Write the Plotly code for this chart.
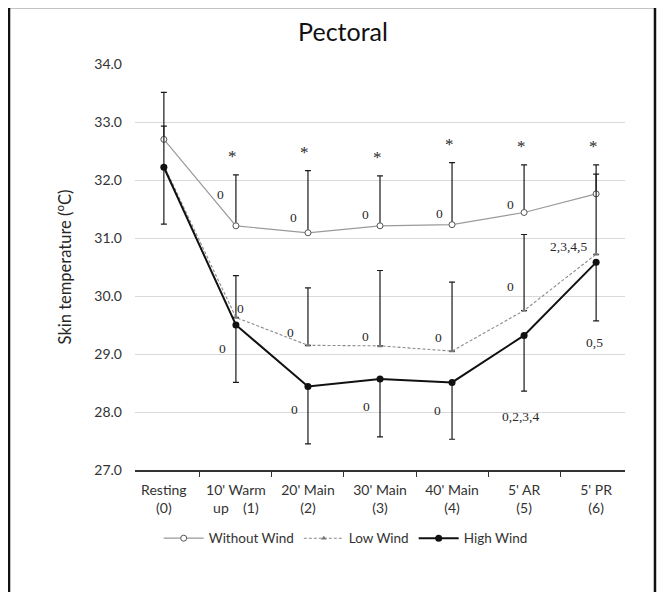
import plotly.graph_objects as go

# ---------------- data ----------------
categories = ["Resting<br>(0)", "10' Warm<br>up\u00a0\u00a0\u00a0\u00a0(1)", "20' Main<br>(2)",
              "30' Main<br>(3)", "40' Main<br>(4)", "5' AR<br>(5)", "5' PR<br>(6)"]

without_wind = [32.70, 31.21, 31.09, 31.21, 31.23, 31.44, 31.76]
without_wind_sd = [0.81, 0.88, 1.07, 0.86, 1.07, 0.82, 0.50]   # upper bars

low_wind = [32.25, 29.63, 29.15, 29.14, 29.05, 29.75, 30.72]
low_wind_sd = [0.68, 0.72, 0.99, 1.30, 1.19, 1.31, 1.38]       # upper bars

high_wind = [32.22, 29.50, 28.44, 28.57, 28.51, 29.32, 30.58]
high_wind_sd = [0.98, 0.99, 0.99, 1.00, 0.98, 0.96, 1.01]      # lower bars

without_wind_sig = ["", "0", "0", "0", "0", "0", ""]
low_wind_sig = ["", "0", "0", "0", "0", "0", "2,3,4,5"]
high_wind_sig = ["", "0", "0", "0", "0", "0,2,3,4", "0,5"]
between_sig = ["", "*", "*", "*", "*", "*", "*"]

y_ticks = [27.0, 28.0, 29.0, 30.0, 31.0, 32.0, 33.0, 34.0]

# ---------------- style ----------------
FONT = "Lato"
SERIF = "Liberation Serif"
zeros = [0] * len(categories)

# label pixel offsets (dx, dy) relative to each point, dy positive = up
ww_off = [(0, 0), (-15, 31), (-14, 15), (-15, 11), (-13, 11), (-14, 8), (0, 0)]
lw_off = [(0, 0), (5, 9), (-17, 13), (-15, 9), (-14, 14), (-14, 24), (-28, 8)]
hw_off = [(0, 0), (-13, -23), (-13, -23), (-14, -28), (-15, -28), (-4, -81), (-2, -80)]

fig = go.Figure()

err_style = dict(type="data", symmetric=False, color="#1a1a1a", thickness=1.2, width=3)

fig.add_trace(go.Scatter(
    x=categories, y=without_wind, name="Without Wind", mode="lines+markers",
    line=dict(color="#9a9a9a", width=1.2),
    marker=dict(symbol="circle", size=6, color="white", line=dict(color="#555555", width=1)),
    error_y=dict(array=without_wind_sd, arrayminus=zeros, **err_style),
))
fig.add_trace(go.Scatter(
    x=categories, y=low_wind, name="Low Wind", mode="lines+markers",
    line=dict(color="#8a8a8a", width=1.1, dash="3px,2px"),
    marker=dict(symbol="triangle-up", size=5, color="#777777"),
    error_y=dict(array=low_wind_sd, arrayminus=zeros, **err_style),
))
fig.add_trace(go.Scatter(
    x=categories, y=high_wind, name="High Wind", mode="lines+markers",
    line=dict(color="#111111", width=2),
    marker=dict(symbol="circle", size=7, color="#111111"),
    error_y=dict(array=zeros, arrayminus=high_wind_sd, **err_style),
))

annotations = []


def add_labels(vals, labels, offs):
    for c, v, t, (dx, dy) in zip(categories, vals, labels, offs):
        if t:
            annotations.append(dict(x=c, y=v, text=t, showarrow=False, xshift=dx, yshift=dy,
                                    font=dict(family=SERIF, size=13.5, color="#2a2a2a")))


add_labels(without_wind, without_wind_sig, ww_off)
add_labels(low_wind, low_wind_sig, lw_off)
add_labels(high_wind, high_wind_sig, hw_off)

for c, v, s, t in zip(categories, without_wind, without_wind_sd, between_sig):
    if t:
        annotations.append(dict(x=c, y=v + s, text=t, showarrow=False, xshift=-3, yshift=18,
                                font=dict(family=SERIF, size=17, color="#2a2a2a")))

fig.update_layout(
    width=665, height=592,
    margin=dict(l=127, r=48, t=56, b=129.5),
    paper_bgcolor="white", plot_bgcolor="white",
    font=dict(family=FONT, size=13, color="#404040"),
    title=dict(text="Pectoral", x=0.4245, xref="paper", xanchor="center",
               y=1 - 24 / 592, yref="container", yanchor="middle",
               font=dict(family=FONT, size=25, color="#111111")),
    showlegend=True,
    legend=dict(orientation="h", x=0.43, xanchor="center", y=-0.1685, yanchor="middle",
                font=dict(family=FONT, size=13.5, color="#333333"),
                itemwidth=40, tracegroupgap=0, bgcolor="rgba(0,0,0,0)"),
    annotations=annotations,
    shapes=[dict(type="rect", xref="paper", yref="paper",
                 x0=-0.2571, x1=1.0612, y0=-0.35, y1=1.1402,
                 line=dict(color="#111111", width=2.5), layer="above")],
)

fig.update_xaxes(
    type="category", tickson="boundaries", ticks="outside", ticklen=5,
    tickcolor="#333333", tickwidth=1.2,
    showline=True, linecolor="#333333", linewidth=1.5,
    showgrid=False, ticklabelstandoff=6,
    tickfont=dict(family=FONT, size=14, color="#333333"),
)
fig.update_yaxes(
    range=[27, 34], tickvals=y_ticks, ticktext=[f"{v:.1f}" for v in y_ticks],
    showgrid=True, gridcolor="#d9d9d9", gridwidth=1, zeroline=False,
    showline=False, ticks="", ticklabelstandoff=12,
    tickfont=dict(family=FONT, size=14, color="#333333"),
    title=dict(text="Skin temperature (<sup>o</sup>C)", standoff=18,
               font=dict(family=FONT, size=16.5, color="#262626")),
)

fig.write_html("out.html")
